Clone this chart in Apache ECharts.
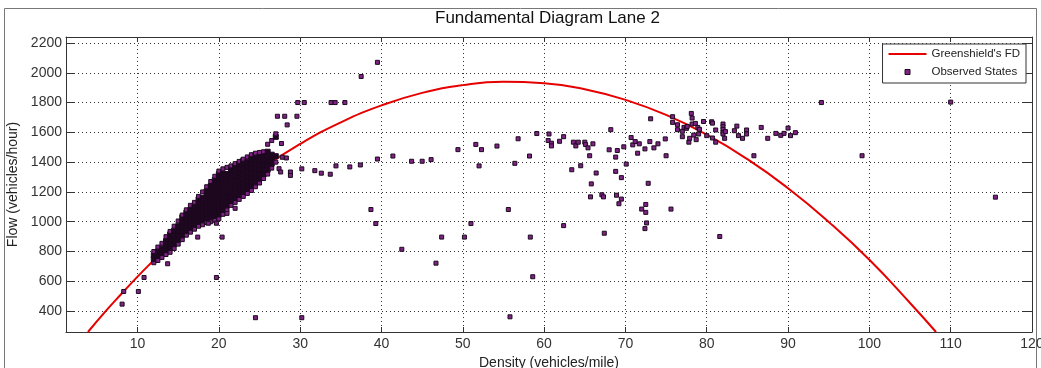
<!DOCTYPE html>
<html>
<head>
<meta charset="utf-8">
<title>Fundamental Diagram Lane 2</title>
<script src="https://cdn.jsdelivr.net/npm/echarts@6/dist/echarts.min.js"></script>
<style>
html, body { margin: 0; padding: 0; background: #fff; }
#chart { width: 1041px; height: 368px; }
</style>
</head>
<body>
<div id="chart"></div>
<script>
// tick labels
const xTicks = [10, 20, 30, 40, 50, 60, 70, 80, 90, 100, 110, 120]
const yTicks = [400, 600, 800, 1000, 1200, 1400, 1600, 1800, 2000, 2200]

// Greenshield's FD
const fdDensity = [3.9, 6, 8, 10, 12, 14, 16, 18, 20, 25, 30, 35, 40, 45, 50, 55, 60, 65, 70, 75, 80, 85, 90, 95, 100, 105, 108.2]
const fdFlow = [260, 395, 515, 632, 742, 850, 950, 1047, 1138, 1345, 1522, 1667, 1781, 1865, 1917, 1939, 1930, 1890, 1818, 1717, 1584, 1420, 1225, 999, 745, 455, 260]

// dense cluster of observed states: [density, [flows...]]
const clusterRows = [
    [12, [725, 750, 775, 800]],
    [12.5, [740, 770, 800, 830]],
    [13, [760, 790, 820, 855]],
    [13.5, [780, 810, 840, 870, 900]],
    [14, [795, 825, 855, 885, 915, 935]],
    [14.5, [820, 850, 880, 910, 940, 970]],
    [15, [850, 880, 910, 940, 970, 1005]],
    [15.5, [880, 910, 940, 970, 1000, 1030, 1045]],
    [16, [910, 940, 970, 1000, 1030, 1060, 1080]],
    [16.5, [930, 960, 990, 1020, 1050, 1080, 1110]],
    [17, [950, 980, 1010, 1040, 1070, 1100, 1130]],
    [17.5, [970, 1000, 1030, 1060, 1090, 1120, 1150, 1170]],
    [18, [980, 1010, 1040, 1070, 1100, 1130, 1160, 1200]],
    [18.5, [995, 1025, 1055, 1085, 1115, 1145, 1175, 1205, 1235]],
    [19, [1000, 1030, 1060, 1090, 1120, 1150, 1180, 1210, 1240, 1270]],
    [19.5, [1010, 1040, 1070, 1100, 1130, 1160, 1190, 1220, 1250, 1280, 1305]],
    [20, [1020, 1050, 1080, 1110, 1140, 1170, 1200, 1230, 1260, 1290, 1320, 1340]],
    [20.5, [1050, 1080, 1110, 1140, 1170, 1200, 1230, 1260, 1290, 1320, 1355]],
    [21, [1080, 1110, 1140, 1170, 1200, 1230, 1260, 1290, 1320, 1365]],
    [21.5, [1110, 1140, 1170, 1200, 1230, 1260, 1290, 1320, 1350, 1375]],
    [22, [1130, 1160, 1190, 1220, 1250, 1280, 1310, 1340, 1370, 1390]],
    [22.5, [1150, 1180, 1210, 1240, 1270, 1300, 1330, 1360, 1390, 1405]],
    [23, [1170, 1200, 1230, 1260, 1290, 1320, 1350, 1380, 1410, 1420]],
    [23.5, [1190, 1220, 1250, 1280, 1310, 1340, 1370, 1400, 1435]],
    [24, [1210, 1240, 1270, 1300, 1330, 1360, 1390, 1420, 1450]],
    [24.5, [1235, 1265, 1295, 1325, 1355, 1385, 1415, 1445, 1460]],
    [25, [1260, 1290, 1320, 1350, 1380, 1410, 1440, 1465]],
    [25.5, [1290, 1320, 1350, 1380, 1410, 1440, 1470]],
    [26, [1320, 1350, 1380, 1410, 1440, 1470, 1520]],
    [26.5, [1360, 1390, 1420, 1450, 1545]],
    [27, [1400, 1440, 1570, 1590]]
]

// scattered observed states [density, flow]
const scatterPoints = [
    [8.1, 447], [8.3, 532], [10.1, 532], [10.8, 626], [13.7, 718], [17.4, 897], [19.7, 626], [20.4, 897],
    [24.5, 356], [30.2, 356], [18.7, 990], [19.7, 990], [21, 1056], [22, 1090],
    [27.4, 1356], [27.6, 1334], [28.8, 1334], [28.8, 1311], [27.8, 1433], [28.4, 1650],
    [27.2, 1708], [28.1, 1708], [29.6, 1708], [29.7, 1800], [30.5, 1800], [33.8, 1800], [34.3, 1800], [35.5, 1800],
    [37.5, 1975], [39.5, 2070], [27.7, 1525], [28.3, 1428], [30.2, 1355], [31.8, 1343], [32.6, 1326], [33.7, 1319],
    [34.4, 1375], [36.1, 1368], [37.4, 1381], [39.5, 1421], [41.4, 1441], [43.7, 1406], [45, 1406], [46.1, 1417],
    [49.4, 1484], [51.6, 1519], [52.3, 1484], [52, 1375], [54.2, 1508], [56.4, 1392], [56.8, 1557], [58.2, 1441],
    [59.1, 1592], [38.7, 1082], [39.3, 988], [42.5, 815], [47.4, 897], [46.7, 722], [50.2, 897], [51, 988],
    [55.6, 1082], [58.3, 897], [58.6, 631], [55.8, 362],
    [60.6, 1589], [60.5, 1545], [60.9, 1527], [60.9, 1509], [61.9, 1540], [62.4, 1571], [63.6, 1534], [63.9, 1509],
    [64.2, 1534], [65, 1534], [65.1, 1518], [65.4, 1496], [66, 1523], [65.6, 1443], [68.2, 1618], [68, 1483],
    [69, 1478], [68.8, 1434], [69.8, 1503], [70.7, 1565], [70.9, 1516], [71.2, 1538], [71.7, 1523], [71.5, 1460],
    [72.4, 1489], [73, 1538], [73.5, 1496], [74, 1523], [73.1, 1691], [74.9, 1556], [75, 1443],
    [63.4, 1349], [64.5, 1376], [66.4, 1327], [65.8, 1254], [68.8, 1338], [69.5, 1296], [70.1, 1387], [65.7, 1167],
    [67.1, 1181], [67.3, 1167], [68.9, 1178], [69.5, 1152], [69.2, 1121], [72.8, 1258], [72, 1085], [72.5, 1116],
    [72.5, 1063], [72.6, 992], [72.4, 954], [75.6, 1085], [62.4, 974], [67.4, 923], [81.6, 901],
    [75.8, 1705], [75.8, 1667], [76.4, 1651], [76.4, 1618], [77, 1571], [77, 1607], [77.2, 1633], [77.5, 1627],
    [77.6, 1640], [77.8, 1534], [77.9, 1560], [78.1, 1727], [78.2, 1696], [78.2, 1656], [78.4, 1582], [78.6, 1660],
    [78.7, 1551], [78.9, 1633], [79, 1589], [79.1, 1620], [79.6, 1673], [80, 1578], [80.6, 1671], [80.7, 1662],
    [80.7, 1562], [81.1, 1616], [81.1, 1534], [82, 1656], [82, 1638], [82, 1620], [82, 1600], [82, 1589],
    [82.2, 1560], [82.3, 1605], [83.4, 1611], [83.7, 1642], [83.9, 1578], [84.4, 1560], [84.9, 1616], [84.9, 1589],
    [85.8, 1443], [86.7, 1633], [87.5, 1560], [88.5, 1593], [89.1, 1580], [89.5, 1593], [90, 1629], [90.3, 1578],
    [90.9, 1598], [94.1, 1800], [99.1, 1443], [110, 1803], [115.5, 1165]
]

var font = 'Liberation Sans, Arial, Helvetica, sans-serif'
var purple = '#7e2384'
var dark = '#1c0a1e'

// cluster: edge squares stay purple, the packed interior reads as black
var observed = []
clusterRows.forEach(function (row) {
    var qs = row[1]
    qs.forEach(function (q, i) {
        var edge = i === 0 || i === qs.length - 1
        if (edge) {
            observed.push({ value: [row[0], q] })
        } else {
            observed.push({ value: [row[0], q], symbolSize: 5, itemStyle: { color: '#1e0820', borderColor: '#1e0820' } })
        }
    })
})
scatterPoints.forEach(function (p) { observed.push({ value: p }) })

var fdData = fdDensity.map(function (k, i) { return [k, fdFlow[i]] })

var dom = document.getElementById('chart')
var myChart = echarts.init(dom, null, { renderer: 'canvas' })

var dotted = { color: '#333', width: 1, type: [1, 3] }
var boxLine = { color: '#333', width: 1 }

var option = {
    backgroundColor: '#fff',
    animation: false,
    title: {
        text: 'Fundamental Diagram Lane 2',
        left: 435,
        top: 10,
        padding: 0,
        textStyle: { fontFamily: font, fontSize: 17, fontWeight: 'normal', color: '#111' }
    },
    legend: {
        orient: 'vertical',
        right: 15,
        top: 44,
        itemWidth: 38,
        itemHeight: 5,
        itemGap: 4,
        padding: [3, 6, 4, 6],
        symbolKeepAspect: true,
        backgroundColor: '#fff',
        borderColor: '#333',
        borderWidth: 1,
        borderRadius: 0,
        textStyle: { fontFamily: font, fontSize: 11.5, color: '#222', lineHeight: 14 },
        data: [
            { name: "Greenshield's FD", icon: 'path://M0,0L38,0L38,2L0,2Z', itemStyle: { color: '#e60000', borderWidth: 0 } },
            { name: 'Observed States', icon: 'path://M0,0L10,0L10,10L0,10Z', itemStyle: { color: purple, borderColor: dark, borderWidth: 1 } }
        ]
    },
    grid: { left: 66, right: 9, top: 37, bottom: 36, containLabel: false, outerBoundsMode: 'none' },
    graphic: [
        {
            type: 'rect',
            shape: { x: 4.5, y: 8.5, width: 1032, height: 370 },
            style: { fill: null, stroke: '#777', lineWidth: 1 },
            silent: true
        }
    ],
    xAxis: [
        {
            type: 'value',
            min: 1.2,
            max: 120,
            position: 'bottom',
            name: 'Density (vehicles/mile)',
            nameLocation: 'middle',
            nameGap: 21,
            nameTextStyle: { fontFamily: font, fontSize: 14, color: '#222' },
            axisLine: { show: true, lineStyle: boxLine },
            axisTick: { show: true, inside: true, length: 5, customValues: xTicks, lineStyle: boxLine },
            axisLabel: { customValues: xTicks, fontFamily: font, fontSize: 14, color: '#333', margin: 5 },
            splitLine: { show: true, lineStyle: dotted }
        },
        {
            type: 'value',
            min: 1.2,
            max: 120,
            position: 'top',
            axisLine: { show: true, lineStyle: boxLine },
            axisTick: { show: true, inside: true, length: 5, customValues: xTicks, lineStyle: boxLine },
            axisLabel: { show: false },
            splitLine: { show: false }
        }
    ],
    yAxis: [
        {
            type: 'value',
            min: 260,
            max: 2240,
            position: 'left',
            name: 'Flow (vehicles/hour)',
            nameLocation: 'middle',
            nameGap: 35,
            nameTextStyle: { fontFamily: font, fontSize: 14, color: '#222' },
            axisLine: { show: true, lineStyle: boxLine },
            axisTick: { show: true, inside: true, length: 9, customValues: yTicks, lineStyle: boxLine },
            axisLabel: {
                customValues: yTicks,
                fontFamily: font,
                fontSize: 14,
                color: '#333',
                margin: 4,
                formatter: function (v) { return String(v) }
            },
            splitLine: { show: true, lineStyle: dotted }
        },
        {
            type: 'value',
            min: 260,
            max: 2240,
            position: 'right',
            axisLine: { show: true, lineStyle: boxLine },
            axisTick: { show: true, inside: true, length: 9, customValues: yTicks, lineStyle: boxLine },
            axisLabel: { show: false },
            splitLine: { show: false }
        }
    ],
    series: [
        {
            name: "Greenshield's FD",
            type: 'line',
            xAxisIndex: 0,
            yAxisIndex: 0,
            data: fdData,
            smooth: true,
            symbol: 'none',
            lineStyle: { color: '#e60000', width: 2 },
            itemStyle: { color: '#e60000' },
            z: 2
        },
        {
            name: 'Observed States',
            type: 'scatter',
            xAxisIndex: 0,
            yAxisIndex: 0,
            data: observed,
            symbol: 'rect',
            symbolSize: 4,
            itemStyle: { color: purple, borderColor: dark, borderWidth: 1, opacity: 1 },
            z: 3
        }
    ]
}

if (option && typeof option === 'object') {
    myChart.setOption(option, true)
}
</script>
</body>
</html>
